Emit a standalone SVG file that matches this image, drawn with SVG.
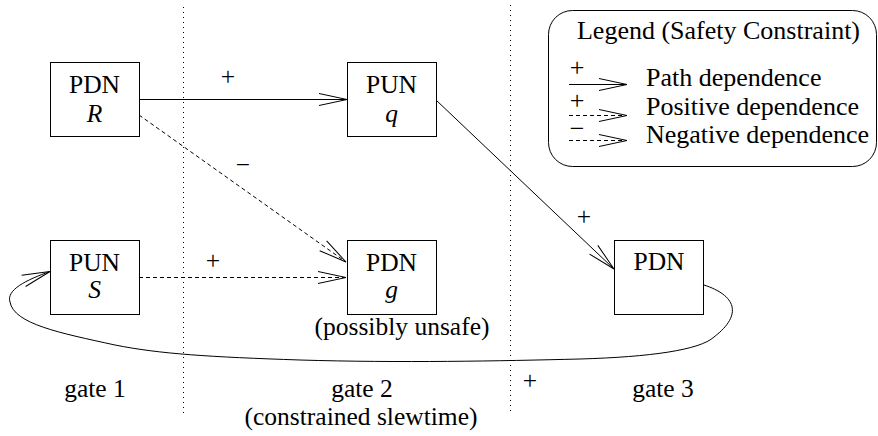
<svg xmlns="http://www.w3.org/2000/svg" width="878" height="436" viewBox="0 0 878 436">
  <defs>
    <!-- open "V" arrowhead shared by all connectors -->
    <marker id="open" markerUnits="userSpaceOnUse" markerWidth="40" markerHeight="20" viewBox="-30 -10 40 20" refX="0" refY="0" orient="auto" overflow="visible">
      <path d="M-28,-6 L0,0 L-28,6" fill="none" stroke="#000" stroke-width="1" stroke-dasharray="none"/>
    </marker>
  </defs>
  <style>
    text { font-family: "Times New Roman", "Liberation Serif", serif; font-size: 25.5px; fill: #000; }
    .c { text-anchor: middle; }
    .i { font-style: italic; }
    .lg text { font-size: 26px; }
    .box { fill: #fff; stroke: #000; stroke-width: 1; }
    .solid { fill: none; stroke: #000; stroke-width: 1; }
    .dash { fill: none; stroke: #000; stroke-width: 1; stroke-dasharray: 4 3; }
    .div { fill: none; stroke: #000; stroke-width: 1; stroke-dasharray: 1 4; }
  </style>
  <rect width="878" height="436" fill="#fff"/>

  <!-- gate column separators -->
  <g id="separators">
    <line class="div" x1="183.5" y1="7" x2="183.5" y2="417"/>
    <line class="div" x1="510.5" y1="5" x2="510.5" y2="415"/>
  </g>

  <!-- dependence connectors -->
  <g id="connectors">
    <path class="solid" d="M139,99.5 L347,99.5" marker-end="url(#open)"/>
    <path class="solid" d="M436,100 L614,269" marker-end="url(#open)"/>
    <path class="dash" d="M139,115 L346,262" marker-end="url(#open)"/>
    <path class="dash" d="M139,277.5 L346,277.5" marker-end="url(#open)"/>
    <path class="solid" d="M704,285 C735,295 744,314 714,337 C700,350 650,357 580,359 C500,361 400,363 300,360 C210,357 160,354 115,345 C60,333 14,324 10,302 C6,290 26,280 50,271.5" marker-end="url(#open)"/>
    <text class="c" x="228" y="85">+</text>
    <text class="c" x="243" y="173">−</text>
    <text class="c" x="213" y="269">+</text>
    <text class="c" x="584" y="225">+</text>
    <text class="c" x="530" y="389">+</text>
  </g>

  <g id="nodeR">
    <rect class="box" x="50.5" y="62.5" width="89" height="74"/>
    <text class="c" x="94.5" y="92.5">PDN</text>
    <text class="c i" x="94.5" y="121.5">R</text>
  </g>
  <g id="nodeQ">
    <rect class="box" x="347.5" y="62.5" width="89" height="74"/>
    <text class="c" x="391.5" y="92.5">PUN</text>
    <text class="c i" x="391.5" y="121.5">q</text>
  </g>
  <g id="nodeS">
    <rect class="box" x="50.5" y="240.5" width="89" height="74"/>
    <text class="c" x="94.5" y="270.5">PUN</text>
    <text class="c i" x="94.5" y="298">S</text>
  </g>
  <g id="nodeG">
    <rect class="box" x="347.5" y="240.5" width="89" height="74"/>
    <text class="c" x="391.5" y="270.5">PDN</text>
    <text class="c i" x="391.5" y="298">g</text>
    <text class="c" x="402" y="335">(possibly unsafe)</text>
  </g>
  <g id="nodeGate3">
    <rect class="box" x="614.5" y="240.5" width="89" height="74"/>
    <text class="c" x="659" y="270">PDN</text>
  </g>

  <!-- gate captions -->
  <g id="captions">
    <text class="c" x="95" y="397">gate 1</text>
    <text class="c" x="362" y="397">gate 2</text>
    <text class="c" x="361" y="425">(constrained slewtime)</text>
    <text class="c" x="663" y="397">gate 3</text>
  </g>

  <g id="legend" class="lg">
    <rect x="548.5" y="10.5" width="328" height="156" rx="24" ry="24" fill="#fff" stroke="#000" stroke-width="1"/>
    <text class="c" x="718.5" y="39">Legend (Safety Constraint)</text>
    <text class="c" x="577" y="76">+</text>
    <path class="solid" d="M569,84.5 L627,84.5" marker-end="url(#open)"/>
    <text x="646" y="86">Path dependence</text>
    <text class="c" x="577" y="109">+</text>
    <path class="dash" d="M569,115.5 L627,115.5" marker-end="url(#open)"/>
    <text x="646" y="115">Positive dependence</text>
    <text class="c" x="577" y="137">−</text>
    <path class="dash" d="M569,140.5 L627,140.5" marker-end="url(#open)"/>
    <text x="646" y="143">Negative dependence</text>
  </g>
</svg>
